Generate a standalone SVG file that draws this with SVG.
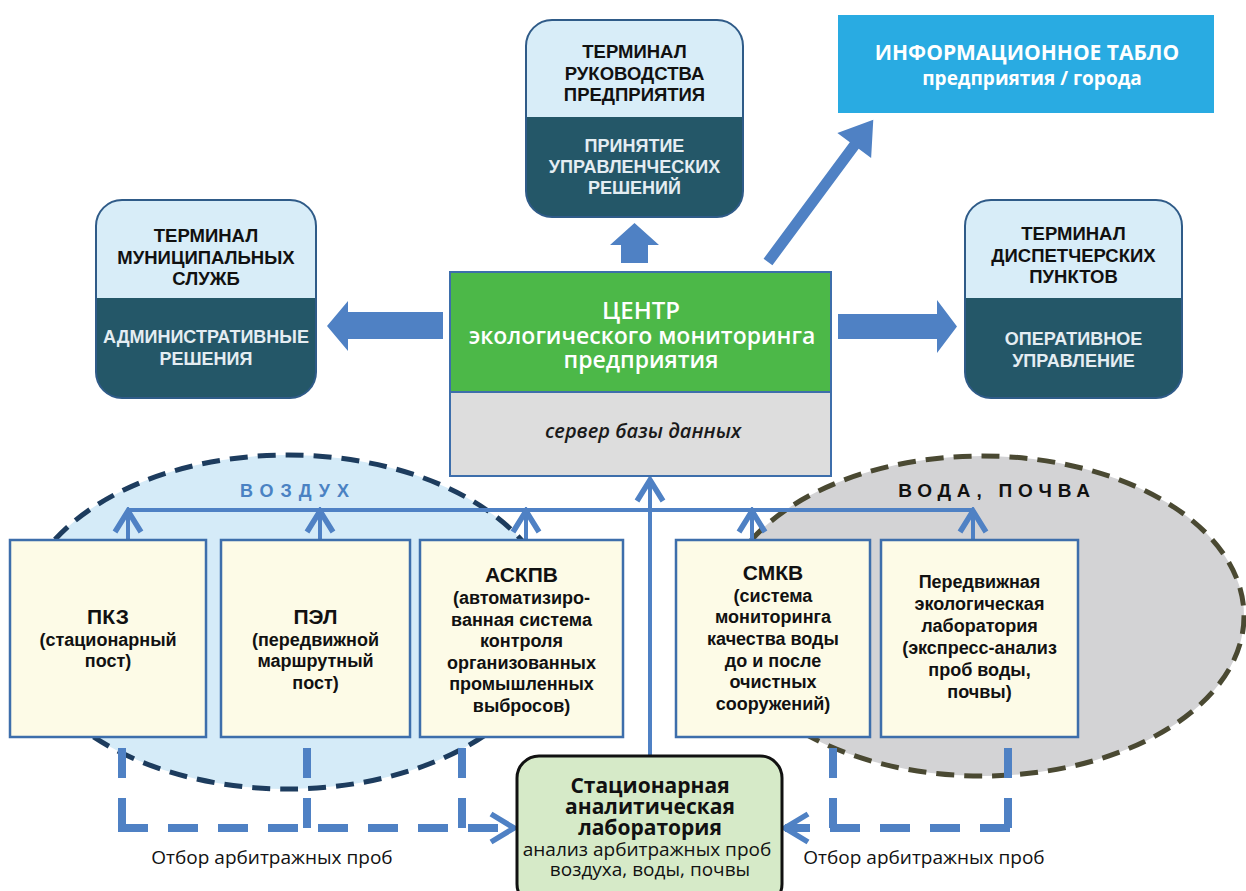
<svg xmlns="http://www.w3.org/2000/svg" width="1246" height="891" viewBox="0 0 1246 891">
<style>
.t{font-family:"Liberation Sans",Arial,sans-serif;font-weight:bold;text-anchor:middle}
.tt{font-size:18.5px;fill:#111}
.td{font-size:18px;fill:#e4edf2}
.bt{font-size:21px;fill:#111}
.bl{font-size:18px;fill:#111}
.o{font-family:"Open Sans","Liberation Sans",sans-serif;text-anchor:middle}
.box{fill:#fdfbe7;stroke:#3d6eab;stroke-width:2.5}
.term-outline{fill:none;stroke:#2f5b88;stroke-width:2}
.light{fill:#d8edf8}
.dark{fill:#245768}
.conn{fill:none;stroke:#4f81c4;stroke-width:4}
.dash{fill:none;stroke:#4f81c4;stroke-width:8;stroke-dasharray:30 20}
.big{fill:#4f81c4}
</style>
<defs>
<marker id="chev" viewBox="0 0 28 32" refX="24" refY="16" markerWidth="28" markerHeight="32" markerUnits="userSpaceOnUse" orient="auto">
<path d="M3,3 L24,16 L3,29" fill="none" stroke="#4f81c4" stroke-width="5.5" stroke-dasharray="none"/>
</marker>
<marker id="chevd" viewBox="0 0 30 34" refX="27" refY="17" markerWidth="30" markerHeight="34" markerUnits="userSpaceOnUse" orient="auto">
<path d="M4,3 L27,17 L4,31" fill="none" stroke="#4f81c4" stroke-width="5.5" stroke-dasharray="none"/>
</marker>
</defs>
<rect width="1246" height="891" fill="#ffffff"/>

<g id="zone-air">
<ellipse cx="288" cy="622" rx="268" ry="167" fill="#d5ebf8" stroke="#1d3c5e" stroke-width="5" stroke-dasharray="18 10"/>
<text x="298" y="497" class="t" style="font-size:18px;fill:#4a82c3;letter-spacing:7px">ВОЗДУХ</text>
</g>
<g id="zone-water">
<ellipse cx="982" cy="616" rx="262" ry="160" fill="#d3d3d5" stroke="#4a4932" stroke-width="5" stroke-dasharray="18 10"/>
<text x="997" y="497" class="t" style="font-size:19px;fill:#111;letter-spacing:5.8px">ВОДА, ПОЧВА</text>
</g>

<g id="connectors">
<polygon class="big" points="621,263 621,245 610,245 634.5,223 659,245 648,245 648,263"/>
<polygon class="big" points="443,312 348,312 348,301 327,326 348,351 348,339 443,339"/>
<polygon class="big" points="838,314 937,314 937,300 957,326.5 937,353 937,339 838,339"/>
<polygon class="big" transform="translate(768,262) rotate(-53.5)" points="0,-5.5 145,-5.5 145,-21 177,0 145,21 145,5.5 0,5.5"/>
<path class="conn" d="M128,510 H973"/>
<path class="conn" d="M650,757 V480" marker-end="url(#chev)"/>
<path class="conn" d="M128,540 V511" marker-end="url(#chev)"/>
<path class="conn" d="M320,540 V511" marker-end="url(#chev)"/>
<path class="conn" d="M526,540 V511" marker-end="url(#chev)"/>
<path class="conn" d="M752,540 V511" marker-end="url(#chev)"/>
<path class="conn" d="M973,540 V511" marker-end="url(#chev)"/>
<path class="dash" d="M122,748 V828"/>
<path class="dash" d="M307,748 V828"/>
<path class="dash" d="M462,748 V828"/>
<path class="dash" d="M118,828 H514" marker-end="url(#chevd)"/>
<path class="dash" d="M833,748 V828"/>
<path class="dash" d="M1008,748 V828"/>
<path class="dash" d="M1010,828 H785" marker-end="url(#chevd)"/>
</g>

<g id="term-mgmt">
<rect x="526" y="20" width="217" height="197" rx="26" class="dark"/>
<path class="light" d="M526,117 V46 a26,26 0 0 1 26,-26 H717 a26,26 0 0 1 26,26 V117 Z"/>
<rect x="526" y="20" width="217" height="197" rx="26" class="term-outline"/>
<text class="t tt" x="634.5" y="58">ТЕРМИНАЛ</text>
<text class="t tt" x="634.5" y="80">РУКОВОДСТВА</text>
<text class="t tt" x="634.5" y="101">ПРЕДПРИЯТИЯ</text>
<text class="t td" x="634.5" y="152">ПРИНЯТИЕ</text>
<text class="t td" x="634.5" y="173">УПРАВЛЕНЧЕСКИХ</text>
<text class="t td" x="634.5" y="194">РЕШЕНИЙ</text>
</g>

<g id="info-board">
<rect x="838" y="15" width="376" height="98" fill="#29abe2"/>
<text class="o" x="1027" y="60" style="font-size:21px;font-weight:bold;fill:#fff">ИНФОРМАЦИОННОЕ ТАБЛО</text>
<text class="o" x="1032" y="85" style="font-size:19px;font-weight:bold;fill:#fff">предприятия / города</text>
</g>

<g id="term-municipal">
<rect x="96" y="200" width="220" height="198" rx="26" class="dark"/>
<path class="light" d="M96,298 V226 a26,26 0 0 1 26,-26 H290 a26,26 0 0 1 26,26 V298 Z"/>
<rect x="96" y="200" width="220" height="198" rx="26" class="term-outline"/>
<text class="t tt" x="206" y="242">ТЕРМИНАЛ</text>
<text class="t tt" x="206" y="264">МУНИЦИПАЛЬНЫХ</text>
<text class="t tt" x="206" y="285">СЛУЖБ</text>
<text class="t td" x="206" y="343">АДМИНИСТРАТИВНЫЕ</text>
<text class="t td" x="206" y="365">РЕШЕНИЯ</text>
</g>

<g id="term-dispatch">
<rect x="965" y="200" width="217" height="198" rx="26" class="dark"/>
<path class="light" d="M965,298 V226 a26,26 0 0 1 26,-26 H1156 a26,26 0 0 1 26,26 V298 Z"/>
<rect x="965" y="200" width="217" height="198" rx="26" class="term-outline"/>
<text class="t tt" x="1073.5" y="240">ТЕРМИНАЛ</text>
<text class="t tt" x="1073.5" y="262">ДИСПЕТЧЕРСКИХ</text>
<text class="t tt" x="1073.5" y="283">ПУНКТОВ</text>
<text class="t td" x="1073.5" y="345">ОПЕРАТИВНОЕ</text>
<text class="t td" x="1073.5" y="367">УПРАВЛЕНИЕ</text>
</g>

<g id="center">
<rect x="450" y="272" width="381" height="120" fill="#4cb848"/>
<rect x="450" y="392" width="381" height="84" fill="#dddddd"/>
<rect x="450" y="272" width="381" height="204" fill="none" stroke="#3d6eab" stroke-width="2"/>
<line x1="450" y1="392" x2="831" y2="392" stroke="#3d6eab" stroke-width="2"/>
<text class="o" x="641" y="319" style="font-size:24px;font-weight:600;fill:#fff">ЦЕНТР</text>
<text class="o" x="642" y="344" style="font-size:23px;font-weight:600;fill:#fff">экологического мониторинга</text>
<text class="o" x="641" y="368" style="font-size:23px;font-weight:600;fill:#fff">предприятия</text>
<text class="o" x="643" y="438" style="font-size:20px;font-weight:600;font-style:italic;fill:#1a1a1a">сервер базы данных</text>
</g>

<g id="pkz">
<rect x="10" y="540" width="196" height="197" class="box"/>
<text class="t bt" x="108" y="624">ПКЗ</text>
<text class="t bl" x="108" y="646">(стационарный</text>
<text class="t bl" x="108" y="667">пост)</text>
</g>
<g id="pel">
<rect x="221" y="540" width="189" height="197" class="box"/>
<text class="t bt" x="315.5" y="624">ПЭЛ</text>
<text class="t bl" x="315.5" y="646">(передвижной</text>
<text class="t bl" x="315.5" y="667">маршрутный</text>
<text class="t bl" x="315.5" y="689">пост)</text>
</g>
<g id="askpv">
<rect x="420" y="540" width="203" height="197" class="box"/>
<text class="t bt" x="521.5" y="582">АСКПВ</text>
<text class="t bl" x="521.5" y="604">(автоматизиро-</text>
<text class="t bl" x="521.5" y="626">ванная система</text>
<text class="t bl" x="521.5" y="647">контроля</text>
<text class="t bl" x="521.5" y="669">организованных</text>
<text class="t bl" x="521.5" y="690">промышленных</text>
<text class="t bl" x="521.5" y="712">выбросов)</text>
</g>
<g id="smkv">
<rect x="676" y="540" width="194" height="197" class="box"/>
<text class="t bt" x="773" y="580">СМКВ</text>
<text class="t bl" x="773" y="602">(система</text>
<text class="t bl" x="773" y="623">мониторинга</text>
<text class="t bl" x="773" y="645">качества воды</text>
<text class="t bl" x="773" y="667">до и после</text>
<text class="t bl" x="773" y="688">очистных</text>
<text class="t bl" x="773" y="710">сооружений)</text>
</g>
<g id="mobile-lab">
<rect x="881" y="540" width="197" height="197" class="box"/>
<text class="t bl" x="979.5" y="588">Передвижная</text>
<text class="t bl" x="979.5" y="610">экологическая</text>
<text class="t bl" x="979.5" y="632">лаборатория</text>
<text class="t bl" x="979.5" y="654">(экспресс-анализ</text>
<text class="t bl" x="979.5" y="676">проб воды,</text>
<text class="t bl" x="979.5" y="698">почвы)</text>
</g>

<g id="stat-lab">
<rect x="517" y="756" width="265" height="150" rx="22" fill="#d6eac8" stroke="#111" stroke-width="3"/>
<text class="o" x="650" y="793" style="font-size:21px;font-weight:bold;fill:#111">Стационарная</text>
<text class="o" x="650" y="814" style="font-size:21px;font-weight:bold;fill:#111">аналитическая</text>
<text class="o" x="650" y="835" style="font-size:21px;font-weight:bold;fill:#111">лаборатория</text>
<text class="o" x="647" y="856" style="font-size:19px;fill:#111">анализ арбитражных проб</text>
<text class="o" x="650" y="876" style="font-size:19px;fill:#111">воздуха, воды, почвы</text>
</g>

<g id="labels">
<text class="o" x="272" y="864" style="font-size:19px;fill:#111">Отбор арбитражных проб</text>
<text class="o" x="924" y="864" style="font-size:19px;fill:#111">Отбор арбитражных проб</text>
</g>
</svg>
